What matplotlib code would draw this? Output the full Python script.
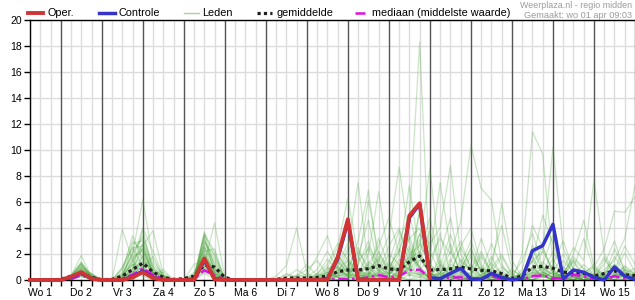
import numpy as np
import matplotlib
matplotlib.use("Agg")
import matplotlib.pyplot as plt
from matplotlib.lines import Line2D

plt.rcParams['font.family'] = ['Liberation Sans', 'DejaVu Sans']

# ---------------- data ----------------
dag_labels = ["Wo 1", "Do 2", "Vr 3", "Za 4", "Zo 5", "Ma 6", "Di 7", "Wo 8",
              "Do 9", "Vr 10", "Za 11", "Zo 12", "Ma 13", "Di 14", "Wo 15"]
uren = list(range(6, 361, 6))   # hours since Wo 1 00:00, 6-hourly

nan = float('nan')
oper = [0,0,0, 0,0.25,0.6,0.1, 0,0,0,0.2, 0.6,0.15,0,0, 0,0,1.65,0.05, 0,0,0,0,
        0,0,0,0, 0,0,0,1.75, 4.67,0,0,0, 0,0,4.95,5.9, 0.2] + [nan] * 20
controle = [0,0,0, 0,0.2,0.55,0.1, 0,0,0,0.25, 0.7,0.2,0,0, 0,0,1.5,0.1, 0,0,0,0,
            0,0,0,0, 0,0,0.1,1.6, 4.5,0,0,0, 0,0,4.8,5.85, 0.18,0.1,0.5,0.9,
            0.08,0.05,0.5,0.2, 0.0,0.13,2.25,2.64, 4.28,0.08,0.77,0.6, 0.2,0.0,1.0,0.3, 0.05]
gemiddelde = [0,0,0, 0.05,0.3,0.5,0.2, 0.02,0.05,0.3,0.8, 1.3,0.6,0.2,0.05, 0.1,0.3,1.15,1.0,
              0.2,0,0,0, 0,0.05,0.15,0.15, 0.15,0.2,0.3,0.64, 0.77,0.77,0.87,1.1,
              0.85,0.8,1.4,1.85, 0.77,0.8,0.85,1.0, 0.85,0.75,0.7,0.5, 0.12,0.3,1.0,1.05,
              0.9,0.6,0.55,0.5, 0.3,0.5,0.7,0.4, 0.35]
mediaan = [0,0,0, 0,0.1,0.35,0.1, 0,0,0.1,0.4, 0.9,0.4,0.1,0, 0,0.1,0.75,0.35, 0.05,0,0,0,
           0,0,0,0, 0,0,0,0.1, 0.05,0.1,0.2,0.38, 0.2,0.3,0.75,0.8, 0.15,0.1,0.2,0.2,
           0.1,0.1,0.3,0.1, 0,0.05,0.3,0.35, 0.15,0.1,0.4,0.3, 0.1,0.05,0.3,0.1, 0.05]

leden = [
 [0,0,0, 0,0.3,1.9,0.2, 0,0,0.5,2.0, 6.2,1.5,0.3,0, 0,0.2,3.6,1.0, 0,0,0,0, 0,0,0.5,0.2, 0,0.5,1.2,2.8, 1.5,0.8,0.4,3.2, 1.0,2.2,4.5,18.3, 0.5,0.3,1.2,0.8, 0.4,2.0,0.6,0.2, 0,0.3,1.5,0.6, 0.2,0.5,1.8,0.9, 0.3,0.1,0.8,0.4, 0.2],
 [0,0,0, 0,0.2,1.2,0.1, 0,0,0,0.8, 3.9,0.6,0,0, 0,0,2.4,0.4, 0,0,0,0, 0,0,0,0, 0,0.2,0.9,2.5, 6.3,1.8,0.4,0, 0,0.6,1.4,3.1, 0.9,0.2,0,1.6, 0.7,0,0,0.3, 0,0,0.6,2.2, 0.8,0,0,0.5, 1.2,0.3,0,0, 0],
 [0,0,0, 0,0.1,0.9,0.3, 0,0,3.9,1.5, 0.6,0.2,0,0, 0,0.3,1.2,4.4, 0.2,0,0,0, 0,0.3,1.1,4.0, 0.6,0,0.2,0.4, 1.5,0.3,2.6,1.2, 0.2,0.8,3.4,1.0, 0,0.5,2.8,0.4, 0,0.2,1.3,0.5, 0.1,0,2.7,0.8, 0,0.4,0.2,0, 0,1.6,0.5,0.3, 0],
 [0,0,0, 0,0.4,1.3,0.2, 0,0,1.0,2.5, 2.6,3.8,0.4,0, 0,0.2,3.3,0.6, 0,0,0,0, 0,0,0,0.3, 0.8,1.5,0.4,1.0, 2.4,7.5,1.0,0.2, 0,0.3,0.8,2.0, 4.8,1.0,0.3,0, 0.2,0.8,0,0, 0,0,0.3,1.2, 3.5,0.6,0.2,0, 0,0.4,1.0,0.2, 0],
 [0,0,0, 0,0,0.6,0.1, 0,0,0.3,1.2, 0.3,0,0,0, 0,0.1,2.0,0.3, 0,0,0,0, 0,0,0,0, 0,0.2,0.6,1.8, 0.8,3.0,6.9,1.2, 0.5,1.0,0.3,0.6, 0.2,0,0,0.9, 2.4,0.6,0,0, 0,0.2,0,0.4, 0,0.3,1.4,0.2, 0,0,0.3,1.1, 0.5],
 [0,0,0, 0,0.2,1.0,0.4, 0,0,0.1,2.8, 3.0,1.0,0.2,0, 0,0,3.7,1.8, 0.1,0,0,0, 0,0,0,0, 0.2,0.8,2.2,0.9, 0.4,1.2,6.15,2.0, 1.0,0.6,2.4,0.5, 0.3,1.5,0.2,0, 0,0,0.4,1.0, 0.4,0,0,0.2, 0.6,2.0,0.4,0, 0.8,0.2,0,0.5, 0.9],
 [0,0,0, 0,0,0.4,0, 0,0,0,0.5, 1.8,0.5,0.6,0, 0,0.3,1.2,0.2, 0,0,0,0, 0,0,0,0, 0,0,0.3,0.5, 1.2,0.4,2.0,6.8, 1.5,0.3,0,0.2, 1.0,3.6,0.5,0, 0.3,1.8,0.5,0, 0,0,0,0.6, 0.2,0,0.9,3.2, 0.7,0,0,0, 0.3],
 [0,0,0, 0,0.3,0.8,0.1, 0,0,0.2,1.5, 4.0,2.2,0.3,0, 0,0,2.8,2.0, 0,0,0,0, 0,0,0.2,0.8, 0.3,0,0,1.2, 2.8,0.6,0.2,1.5, 3.4,8.7,3.0,0.8, 0.2,0,0.6,2.5, 1.0,0.3,0,0, 0,0.5,1.8,0.4, 0,0,0.2,0.6, 0.3,0,1.2,0.4, 0],
 [0,0,0, 0,0,0.5,0.2, 0,0,0,0.2, 0.8,0.2,0,0, 0,0,0.8,0.3, 0,0,0,0, 0,0,0,0, 0,0,0,0.4, 0.2,1.8,4.6,0.8, 0,0.4,1.0,5.5, 2.2,0.6,0,0.3, 0,0,1.5,4.2, 0.8,0.2,0,0, 0,0.6,0.3,0, 0,0.2,0.5,2.1, 0.6],
 [0,0,0, 0,0.1,0.7,0.5, 0,0,0.4,1.8, 2.2,0.6,0.3,0, 0,0.2,3.0,1.2, 0,0,0,0, 0,0,0,0, 0,0.3,1.0,0.2, 0,0.4,1.2,2.6, 4.8,2.0,7.3,1.8, 0.5,0,0.8,0.2, 0,0.6,2.8,1.0, 0.2,0,0.5,1.4, 0.6,0.2,0,0, 0.4,1.8,0.3,0, 0],
 [0,0,0, 0,0.2,1.1,0.2, 0,0,0,0.6, 1.5,0.4,0.8,0, 0,0.6,1.8,0.8, 0,0,0,0, 0,0,0,0, 0,0,0.5,2.0, 0.8,0.2,0,0.6, 1.4,3.8,2.0,2.6, 8.6,1.2,0.4,0, 0.3,0,0.2,0.8, 0,0,1.0,2.6, 0.5,0,0.3,1.2, 0.4,0,0,0.8, 0.3],
 [0,0,0, 0,0,0.3,0, 0,0,0,0, 0.6,0.2,0,0, 0,0,0.5,0.1, 0,0,0,0, 0,0,0,0, 0,0,0,0.3, 0.5,0,0.8,1.6, 0.4,1.0,3.2,4.0, 1.8,7.5,2.4,0.6, 1.2,0.3,0,0.4, 0,0.2,0.9,0.3, 0,1.5,0.6,0, 0,0.3,2.4,0.8, 0.2],
 [0,0,0, 0,0.3,1.4,0.3, 0,0,0.8,2.5, 1.0,0.3,0,0, 0,0.1,2.2,2.4, 0,0,0,0, 0,0,0,0, 0,0.4,1.6,0.8, 0.3,2.2,1.0,0.2, 0,0.8,1.8,3.5, 2.8,4.0,8.8,2.0, 0.6,1.0,0.3,0, 0,0,0.4,0.6, 2.2,0.8,0,0.3, 1.0,0.2,0,0, 0.4],
 [0,0,0, 0,0,0.6,0.1, 0,0,0,1.2, 2.8,0.8,0,0, 0,0,3.4,0.5, 0,0,0,0, 0,0,0,0.4, 0.2,0,0,0.8, 1.5,0.4,0.2,0.6, 2.0,1.2,0.4,0.8, 1.6,3.2,2.0,4.5, 10.4,7.05,6.15,1.2, 0.2,0,0.8,0.4, 0,0.6,1.5,0.3, 0,0,0.5,0.2, 0],
 [0,0,0, 0,0.1,0.4,0.1, 0,0,0,0.4, 1.0,1.8,0.2,0, 0,1.2,1.5,0.4, 0,0,0,0, 0,0,0,0, 0,0,0.8,1.4, 0.5,0.2,0.6,0.3, 0,0.2,1.6,2.2, 0.6,1.0,3.5,1.4, 0.8,2.2,0.6,5.9, 1.5,0.2,0,0.3, 0.8,0.2,0,0, 0,0.5,0.9,0.4, 0.2],
 [0,0,0, 0,0.2,0.9,0.2, 0,0,0.2,1.6, 2.4,0.5,0,0, 0,0.2,2.6,0.8, 0,0,0,0, 0,0,0,0, 0,0.2,0,0.4, 1.0,0.4,1.4,0.8, 0.2,0.5,1.2,2.0, 0.6,0,1.0,0.8, 2.5,0.6,0.3,0.4, 0,2.0,11.4,9.7, 1.2,0.4,0,0.6, 0.3,0,0.2,0.8, 0.5],
 [0,0,0, 0,0,0.5,0.1, 0,0,0,0.3, 1.2,0.3,0,0, 0,0,1.6,0.3, 0,0,0,0, 0,0,0,0, 0,0,0,0, 0.2,0.6,0.3,0, 0.5,1.6,0.8,3.6, 1.2,0.4,0.2,0.6, 0,0.4,1.8,0.3, 0,0.6,1.5,2.2, 10.2,2.4,0.8,0.2, 0,0.6,1.2,0.5, 0.3],
 [0,0,0, 0,0.1,0.8,0.4, 0,0,0.3,2.2, 3.2,1.0,0.2,0, 0,0,3.0,1.6, 0,0,0,0, 0,0,0,0, 0,0,0.2,0.6, 0.3,0,0.4,1.8, 0.8,2.4,1.0,0.3, 0,0.2,0.6,1.2, 3.0,1.0,0.2,0, 0,0,0.3,1.0, 0.4,0.8,2.5,1.5, 7.7,2.0,0.6,0.3, 0],
 [0,0,0, 0,0.2,0.6,0.2, 0,0,0,0.9, 2.0,0.3,0,0, 0,0.3,1.9,0.5, 0,0,0,0, 0,0,0,0.2, 0.5,0,0.4,1.0, 0.6,0.8,0.2,0.4, 1.2,0.6,2.0,1.0, 0.3,0.5,1.6,0.2, 0,0.3,0.9,2.0, 0.5,0,0.2,0.4, 1.6,0.3,0,0.6, 1.0,2.4,5.3,5.2, 6.4],
 [0,0,0, 0,0,0.3,0, 0,0,0.1,0.8, 2.6,0.6,0,0, 0,0,1.0,0.2, 0,0,0,0, 0,0,0,0, 0,0.3,0.6,0.2, 0,1.2,3.0,0.6, 0.2,0,0.4,1.5, 3.8,0.8,0,0.4, 1.8,0.6,0,0.2, 0.8,0.3,2.4,0.6, 0.2,1.0,0.4,0, 0.3,0.8,1.5,3.2, 7.3],
 [0,0,0, 0,0.3,1.0,0.5, 0,0,0.6,3.4, 1.6,0.4,0,0, 0,0.4,2.2,0.6, 0,0,0,0, 0,0,0,0, 0.4,1.8,3.4,1.0, 0.3,0,0.2,0.8, 2.6,4.0,1.2,0.4, 0,0.3,1.0,0.6, 0.2,0,0.6,1.8, 0.4,0,0,0.3, 1.2,3.0,0.8,0, 0,0.2,0,0.3, 0],
 [0,0,0, 0,0.1,0.6,0.1, 0,0,0,0.5, 1.4,0.8,0.3,0, 0,0,1.4,0.8, 0,0,0,0, 0,0,0,0, 0,0,0,0.2, 0.8,2.5,0.6,0, 0.4,1.2,0.8,5.2, 0.6,0,1.4,3.0, 0.8,0.2,0,0, 0.3,1.5,3.6,1.0, 0.2,0,0,0.4, 0.2,1.2,3.0,0.6, 0.3],
 [0,0,0, 0,0.2,1.3,0.2, 0,0,0.2,1.4, 2.8,0.4,0,0, 0,0.1,2.6,1.4, 0,0,0,0, 0,0,0.4,0.2, 0,0,0.2,0.6, 1.8,0.4,0.3,2.2, 0.6,3.0,5.0,1.8, 0.4,0,0.3,0.8, 2.0,0.8,0.2,0, 0,0,0.6,0.3, 0,0.4,2.0,4.6, 1.0,0.2,0,0, 0],
 [0,0,0, 0,0,0.4,0.1, 0,0,0,0.3, 0.6,0.4,0,0, 0,0.2,0.9,0.2, 0,0,0,0, 0,0,0,0, 0,0,0.4,0.2, 0.5,0.2,0,0.4, 0.2,0.6,1.8,1.0, 0,2.0,4.8,1.0, 0.4,0,0.3,0.6, 0,0.8,4.2,2.5, 0.6,0,0,0.2, 0.4,0,0.3,1.0, 0.4],
 [0,0,0, 0,0.2,0.8,0.3, 0,0,0.4,2.0, 3.4,1.2,0.4,0, 0,0.5,2.5,1.0, 0,0,0,0, 0,0,0,0, 0,0.5,0.2,0, 0.3,1.5,2.4,0.5, 0,0.3,1.0,2.8, 1.2,0.4,0,0.2, 0.6,3.2,1.0,0.3, 0,0.2,1.0,0.3, 0,0.2,1.6,0.8, 0,0.3,0.8,2.6, 1.2],
 [0,0,0, 0,0,0.5,0, 0,0,0,0.6, 1.0,0.2,0,0, 0,0,1.1,0.2, 0,0,0,0, 0,0,0,0, 0,0,0,0, 0.4,0.2,1.2,0.4, 0.6,0.2,0,0.5, 0.3,0.6,0.2,0, 0,0.4,0.2,0, 0,0,0.2,0.9, 0.4,0,0.3,0, 0,0,0.4,0.2, 0],
 [0,0,0, 0,0.3,1.2,0.4, 0,0,0.9,3.0, 2.2,0.6,0.2,0, 0,0.3,3.5,2.2, 0,0,0,0, 0,0,0,0.3, 1.2,0.3,0,0.6, 2.2,0.8,0.4,1.0, 0.4,1.4,2.6,0.8, 0.3,1.2,0.4,2.6, 4.0,1.2,0.3,0, 0.2,0.5,1.4,5.0, 2.8,0.6,0.2,0, 0.5,0.3,1.8,0.6, 0.2],
 [0,0,0, 0,0.1,0.4,0.2, 0,0,0.1,0.6, 1.8,0.5,0,0, 0,0,1.5,0.5, 0,0,0,0, 0,0,0,0, 0,0,0.2,0.8, 0.3,0,0.5,0.2, 0,0.4,0.8,1.6, 0.5,0.2,0.4,0.2, 0,0.2,0.6,0.3, 0,0,0.3,0.2, 0.6,0.2,0,0, 0.3,0.2,0,0.4, 0.2],
 [0,0,0, 0,0.2,0.7,0.2, 0,0,0.3,1.2, 1.0,0.3,0,0, 0,0.1,0.6,0.3, 0,0,0,0, 0,0,0,0, 0,0.2,0.5,1.5, 0.6,0.3,0.2,0.4, 0.8,0.2,0.6,0.4, 0.2,0,0.2,0.4, 0.2,0,0,0.2, 0,0.2,0.6,0.4, 0,0.3,0.5,0.2, 0,0,0.2,0.4, 0.3],
 [0,0,0, 0,0.1,0.5,0.3, 0,0,0.2,0.9, 2.4,0.6,0.3,0, 0,0.2,2.0,0.6, 0,0,0,0, 0,0,0,0, 0,0,0,0.3, 1.0,0.5,0,0.3, 0.6,2.0,0.4,0.2, 0,0.5,2.2,0.6, 0,0.2,0.4,0.1, 0,0,0,0.5, 0.2,0.6,0.3,0, 0.2,0,0.4,0.3, 0.1],
]

# ---------------- style ----------------
RED = '#d03434'
BLUE = '#3434c8'
GREEN = '#44a334'
MAGENTA = '#e010e0'
GRID = '#dcdcdc'
DARK = '#555555'

W, H = 635, 300
fig = plt.figure(figsize=(W / 100, H / 100), dpi=100)
ax = fig.add_axes([30 / W, 20 / H, 1 - 30 / W, 260 / H])

x = np.array(uren) / 24.0

# grid
for h in range(6, 361, 6):
    if h % 24 == 0:
        ax.axvline(h / 24.0, color=DARK, lw=1.0, zorder=1)
    else:
        ax.axvline(h / 24.0, color=GRID, lw=1.0, zorder=0.5)
for yv in range(2, 21, 2):
    ax.axhline(yv, color=GRID, lw=1.0, zorder=0.5)

for m in leden:
    ax.plot(x, m, color=GREEN, alpha=0.28, lw=0.9, zorder=2)

ax.plot(x, gemiddelde, color='#202020', lw=2.3, ls=(0, (1, 1)), zorder=4,
        solid_capstyle='butt', dash_capstyle='butt')
ax.plot(x, mediaan, color=MAGENTA, lw=1.8, ls=(0, (4, 1.5, 1, 1.5)), zorder=4)
ax.plot(x, controle, color=BLUE, lw=2.5, zorder=5, clip_on=False)
ax.plot(x, np.array(oper, dtype=float), color=RED, lw=2.8, zorder=6, clip_on=False)

ax.set_xlim(0.25, 15.0)
ax.set_ylim(0, 20)
ax.set_yticks(range(0, 21, 2))
ax.set_xticks(np.arange(len(dag_labels)) + 0.5)
ax.set_xticklabels(dag_labels)
ax.set_xticks(np.arange(0.25, 15.01, 0.25), minor=True)
ax.tick_params(axis='x', which='both', length=4, width=1, direction='out',
               labelsize=7.5, pad=2, color='black')
ax.tick_params(axis='y', length=4, width=1, labelsize=7.5, pad=2)
for s in ['left', 'top', 'bottom']:
    ax.spines[s].set_color('black')
    ax.spines[s].set_linewidth(1)
ax.spines['right'].set_visible(False)
ax.set_axisbelow(False)

# legend (drawn above the plot)
ly = 1 - 13.3 / H
items = [
    (28, 43, 47.5, "Oper.", dict(color=RED, lw=2.8)),
    (99, 115, 118.5, "Controle", dict(color=BLUE, lw=2.5)),
    (184, 199, 202.5, "Leden", dict(color='#a8d49a', lw=1.0)),
    (257, 272, 276.5, "gemiddelde", dict(color='#202020', lw=2.3, ls=(0, (1, 1)))),
    (355, 368, 371.5, "mediaan (middelste waarde)", dict(color=MAGENTA, lw=1.8, ls=(0, (4, 1.5, 1, 1.5)))),
]
for x0, x1, xt, lab, kw in items:
    fig.add_artist(Line2D([x0 / W, x1 / W], [ly, ly], transform=fig.transFigure, **kw))
    fig.text(xt / W, ly, lab, va='center', ha='left', fontsize=7.8, color='black')

fig.text(632 / W, 1 - 5 / H, "Weerplaza.nl - regio midden", ha='right', va='center',
         fontsize=6.4, color='#9a9a9a')
fig.text(632 / W, 1 - 15.5 / H, "Gemaakt: wo 01 apr 09:03", ha='right', va='center',
         fontsize=6.6, color='#9a9a9a')

fig.savefig("out.png", dpi=100)
